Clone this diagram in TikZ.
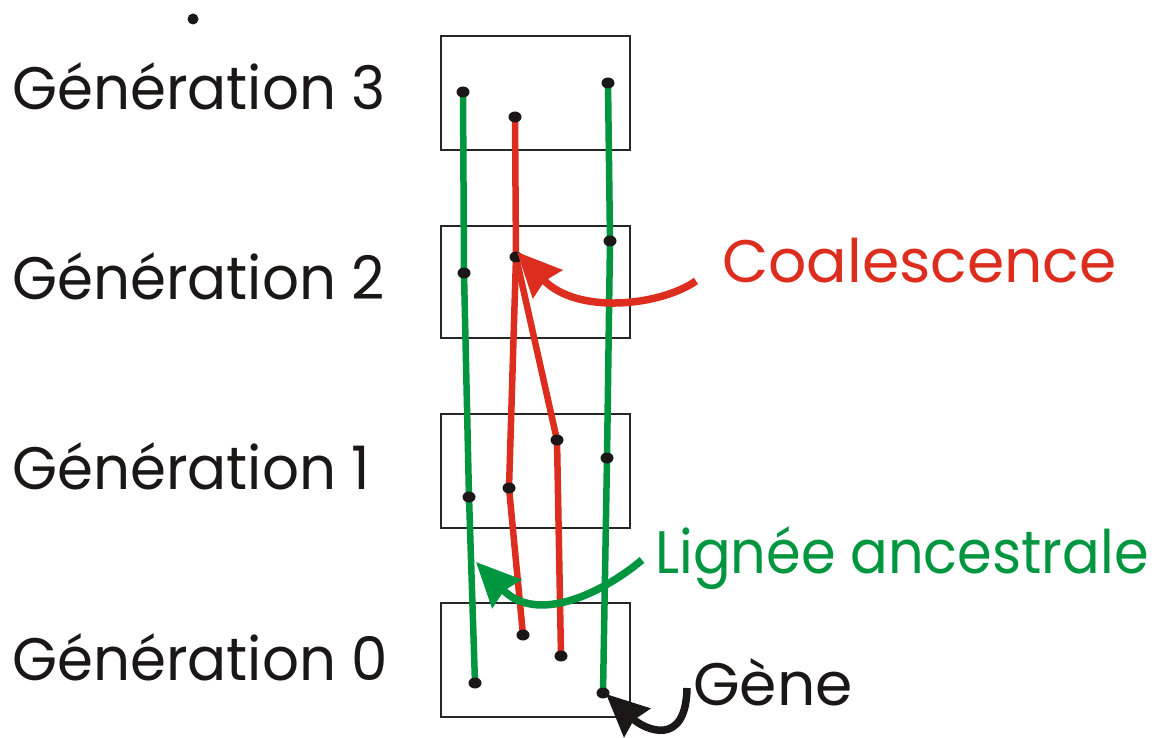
\documentclass[tikz,border=0pt]{standalone}
\usepackage{fontspec}
\setmainfont{Poppins}
\usetikzlibrary{arrows.meta,shapes.geometric}
\definecolor{cred}{RGB}{220,45,30}
\definecolor{cgreen}{RGB}{0,150,64}
\definecolor{cblack}{RGB}{26,23,22}
\begin{document}
\begin{tikzpicture}[x=1pt,y=-1pt,
  genbox/.style={draw=black!85,line width=1.4pt},
  gline/.style={draw=cgreen,line width=6.5pt,line join=round},
  rline/.style={draw=cred,line width=6.5pt,line join=round},
  dot/.style={ellipse,fill=cblack,inner sep=0pt,minimum width=13pt,minimum height=11pt},
  lbl/.style={anchor=base west,inner sep=0pt,font=\fontsize{60}{70}\selectfont},
  bigarrow/.style={line width=7.5pt,-{Stealth[length=44pt,width=40pt,inset=4pt]}}
]
\useasboundingbox (0,0) rectangle (1176,738);

% boxes
\draw[genbox] (441,36) rectangle (630,150);
\draw[genbox] (441,226) rectangle (630,338);
\draw[genbox] (441,414) rectangle (630,528);
\draw[genbox] (441,603) rectangle (630,717);

% labels
\node[lbl,text=cblack] (g3) at (12,110) {\scalebox{0.965}[1]{Génération 3}};
\node[lbl,text=cblack] (g2) at (12,300) {\scalebox{0.965}[1]{Génération 2}};
\node[lbl,text=cblack] (g1) at (12,489) {\scalebox{0.965}[1]{Génération 1}};
\node[lbl,text=cblack] (g0) at (12,680) {\scalebox{0.965}[1]{Génération 0}};
\node[lbl,text=cred] (coal) at (722,283) {Coalescence};
\node[lbl,text=cgreen] (lign) at (655,573) {\scalebox{0.93}[1]{Lignée ancestrale}};
\node[lbl,text=cblack] (gene) at (693,705) {Gène};

% gene positions
\coordinate (a3) at (463,92);
\coordinate (b3) at (515,117);
\coordinate (c3) at (608,83);
\coordinate (a2) at (464,273);
\coordinate (b2) at (516,257);
\coordinate (c2) at (610,241);
\coordinate (a1) at (469,497);
\coordinate (b1) at (509,488);
\coordinate (d1) at (557,440);
\coordinate (c1) at (607,458);
\coordinate (a0) at (475,683);
\coordinate (b0) at (523,635);
\coordinate (d0) at (561,656);
\coordinate (c0) at (603,693);

% lineages
\draw[gline] (a3) -- (a2) -- (a1) -- (a0);
\draw[gline] (c3) -- (c2) -- (c1) -- (c0);
\draw[rline] (b3) -- (b2) -- (b1) -- (b0);
\draw[rline] (b2) -- (d1) -- (d0);

% dots
\foreach \p in {a3,b3,c3,a2,b2,c2,a1,b1,d1,c1,a0,b0,d0,c0}
  \node[dot] (n\p) at (\p) {};
\node[dot,minimum width=11pt,minimum height=11pt] (topdot) at (193,19) {};

% arrows
\coordinate (coalstart) at (696,281);
\coordinate (lignstart) at (642,560);
\coordinate (genestart) at (687,688);
\draw[bigarrow,cred] (coalstart) .. controls (660,306) and (577,315) .. (517,252);
\draw[bigarrow,cgreen] (lignstart) .. controls (600,595) and (536,624) .. (476,562);
\draw[bigarrow,cblack,-{Stealth[length=42pt,width=38pt,inset=4pt]}] (genestart) .. controls (686,748) and (645,730) .. (606,694);
\end{tikzpicture}
\end{document}
